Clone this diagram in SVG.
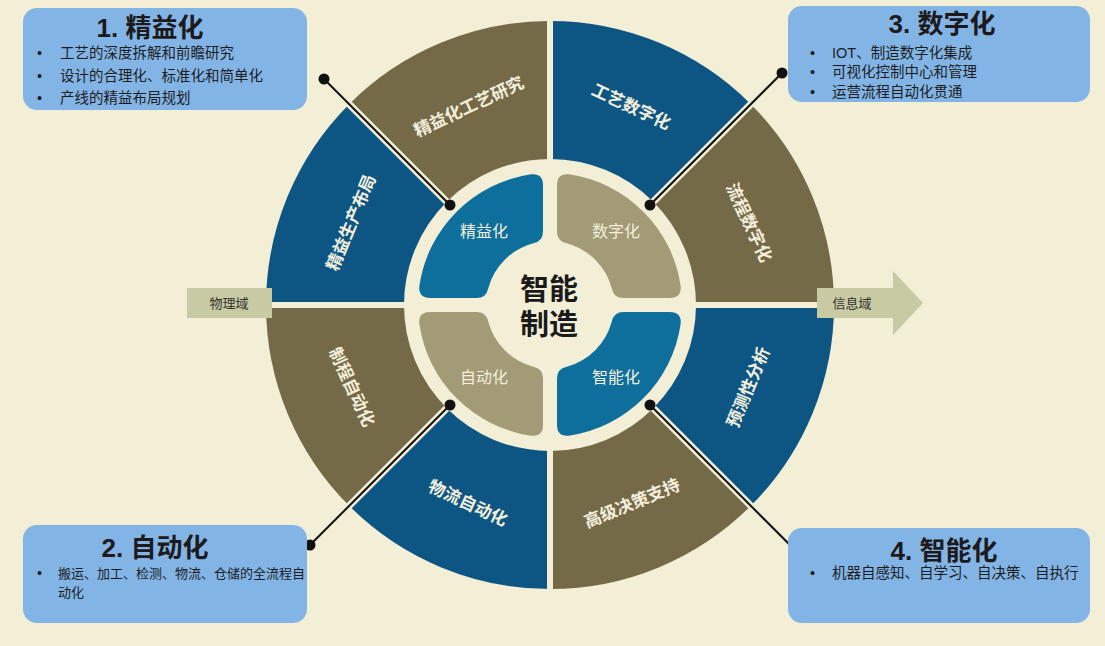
<svg xmlns="http://www.w3.org/2000/svg" xmlns:xlink="http://www.w3.org/1999/xlink" width="1105" height="646" viewBox="0 0 1105 646">
<style>
text{font-family:"Liberation Sans","Noto Sans CJK SC",sans-serif}
.bg{fill:#f2efd6}
.blue{fill:#0d5684}
.olive{fill:#746a48}
.iblue{fill:#0e6f9c}
.iolive{fill:#a39a76}
.seg{fill:#f3efdc;font-size:17px;font-weight:bold;text-anchor:middle;dominant-baseline:central}
.iseg{fill:#f3efdc;font-size:16px;text-anchor:middle;dominant-baseline:central}
.box{fill:#82b5e6}
.title{fill:#1e1a1c;font-size:26px;font-weight:bold;text-anchor:middle}
.item{fill:#1c1c1c;font-size:14.5px}
.dom{fill:#c7caa2}
.domt{fill:#333;font-size:13px;text-anchor:middle}
.sep{stroke:#f2efd6;stroke-width:6}
.halo{stroke:#f2efd6;stroke-width:7;fill:none}
.wire{stroke:#111;stroke-width:2;fill:none}
.dot{fill:#111}
.center{fill:#1a1a1a;font-size:29px;font-weight:bold;text-anchor:middle}
</style>
<defs>
<path id="outerSeg" d="M 266 305 A 284 284 0 0 1 349.18 104.18 L 446.76 201.76 A 146 146 0 0 0 404 305 Z"/>
<path id="innerSeg" d="M 419.37 286.06 A 132 132 0 0 1 531.06 174.37 Q 543 173.19 543 185.19 L 543 231.38 Q 543 241.38 533.19 243.25 A 64 64 0 0 0 488.25 288.19 Q 486.38 298 476.38 298 L 430.19 298 Q 418.19 298 419.37 286.06 Z"/>
</defs>
<rect class="bg" x="0" y="0" width="1105" height="646"/>

<g id="seg-lean-layout"><use xlink:href="#outerSeg" class="blue"/><text class="seg" transform="translate(351.4 222.7) rotate(-67.5)">精益生产布局</text></g>
<g id="seg-lean-process"><use xlink:href="#outerSeg" class="olive" transform="rotate(45 550 305)"/><text class="seg" transform="translate(469 107) rotate(-25)">精益化工艺研究</text></g>
<g id="seg-process-digital"><use xlink:href="#outerSeg" class="blue" transform="rotate(90 550 305)"/><text class="seg" transform="translate(631 107) rotate(25)">工艺数字化</text></g>
<g id="seg-flow-digital"><use xlink:href="#outerSeg" class="olive" transform="rotate(135 550 305)"/><text class="seg" transform="translate(748.6 222.7) rotate(65)">流程数字化</text></g>
<g id="seg-predictive"><use xlink:href="#outerSeg" class="blue" transform="rotate(180 550 305)"/><text class="seg" transform="translate(748.6 387.3) rotate(-67.5)">预测性分析</text></g>
<g id="seg-decision"><use xlink:href="#outerSeg" class="olive" transform="rotate(225 550 305)"/><text class="seg" transform="translate(632.3 503.6) rotate(-22.5)">高级决策支持</text></g>
<g id="seg-logistics"><use xlink:href="#outerSeg" class="blue" transform="rotate(270 550 305)"/><text class="seg" transform="translate(467.7 503.6) rotate(25)">物流自动化</text></g>
<g id="seg-process-auto"><use xlink:href="#outerSeg" class="olive" transform="rotate(315 550 305)"/><text class="seg" transform="translate(351.4 387.3) rotate(65)">制程自动化</text></g>

<g id="separators">
<line class="sep" x1="550" y1="20" x2="550" y2="590"/>
<line class="sep" x1="266" y1="305" x2="834" y2="305"/>
</g>

<g id="inner-lean"><use xlink:href="#innerSeg" class="iblue"/><text class="iseg" x="484" y="231">精益化</text></g>
<g id="inner-digital"><use xlink:href="#innerSeg" class="iolive" transform="translate(1100 0) scale(-1 1)"/><text class="iseg" x="616" y="231">数字化</text></g>
<g id="inner-auto"><use xlink:href="#innerSeg" class="iolive" transform="translate(0 610) scale(1 -1)"/><text class="iseg" x="484" y="377">自动化</text></g>
<g id="inner-smart"><use xlink:href="#innerSeg" class="iblue" transform="translate(1100 610) scale(-1 -1)"/><text class="iseg" x="616" y="377">智能化</text></g>

<g id="physical-domain">
<rect class="dom" x="187" y="288" width="85" height="30"/>
<text class="domt" x="229" y="308">物理域</text>
</g>
<g id="info-domain">
<path class="dom" d="M 817 288 L 893 288 L 893 271 L 923 303 L 893 335 L 893 318 L 817 318 Z"/>
<text class="domt" x="852" y="308">信息域</text>
</g>

<g id="connectors">
<line class="halo" x1="450" y1="205" x2="345" y2="100"/>
<line class="halo" x1="650" y1="205" x2="755" y2="100"/>
<line class="halo" x1="450" y1="405" x2="345" y2="510"/>
<line class="halo" x1="650" y1="405" x2="755" y2="510"/>
<line class="wire" x1="450" y1="205" x2="324" y2="79"/>
<line class="wire" x1="650" y1="205" x2="782" y2="73"/>
<line class="wire" x1="450" y1="405" x2="310" y2="545"/>
<line class="wire" x1="650" y1="405" x2="795" y2="550"/>
<circle class="dot" cx="450" cy="205" r="5.5"/>
<circle class="dot" cx="324" cy="79" r="5.5"/>
<circle class="dot" cx="650" cy="205" r="5.5"/>
<circle class="dot" cx="782" cy="73" r="5.5"/>
<circle class="dot" cx="450" cy="405" r="5.5"/>
<circle class="dot" cx="310" cy="545" r="5.5"/>
<circle class="dot" cx="650" cy="405" r="5.5"/>
<circle class="dot" cx="795" cy="550" r="5.5"/>
</g>

<g id="center">
<text class="center" x="549" y="300">智能</text>
<text class="center" x="549" y="335">制造</text>
</g>

<g id="box-lean">
<rect class="box" x="23" y="8" width="284" height="102" rx="14"/>
<text class="title" x="150" y="37">1. 精益化</text>
<text class="item" x="37" y="57.5">•</text><text class="item" x="60" y="57.5">工艺的深度拆解和前瞻研究</text>
<text class="item" x="37" y="80.5">•</text><text class="item" x="60" y="80.5">设计的合理化、标准化和简单化</text>
<text class="item" x="37" y="102.5">•</text><text class="item" x="60" y="102.5">产线的精益布局规划</text>
</g>

<g id="box-digital">
<rect class="box" x="788" y="6" width="302" height="96" rx="14"/>
<text class="title" x="942" y="33">3. 数字化</text>
<text class="item" x="810" y="57.5">•</text><text class="item" x="832" y="57.5">IOT、制造数字化集成</text>
<text class="item" x="810" y="77">•</text><text class="item" x="832" y="77">可视化控制中心和管理</text>
<text class="item" x="810" y="97">•</text><text class="item" x="832" y="97">运营流程自动化贯通</text>
</g>

<g id="box-auto">
<rect class="box" x="23" y="525" width="284" height="98" rx="14"/>
<text class="title" x="155" y="557">2. 自动化</text>
<text class="item" x="37" y="578">•</text><text class="item" x="58" y="578" style="font-size:13px">搬运、加工、检测、物流、仓储的全流程自</text>
<text class="item" x="58" y="597" style="font-size:13px">动化</text>
</g>

<g id="box-smart">
<rect class="box" x="788" y="528" width="302" height="95" rx="14"/>
<text class="title" x="944" y="560">4. 智能化</text>
<text class="item" x="810" y="578">•</text><text class="item" x="832" y="578">机器自感知、自学习、自决策、自执行</text>
</g>
</svg>
